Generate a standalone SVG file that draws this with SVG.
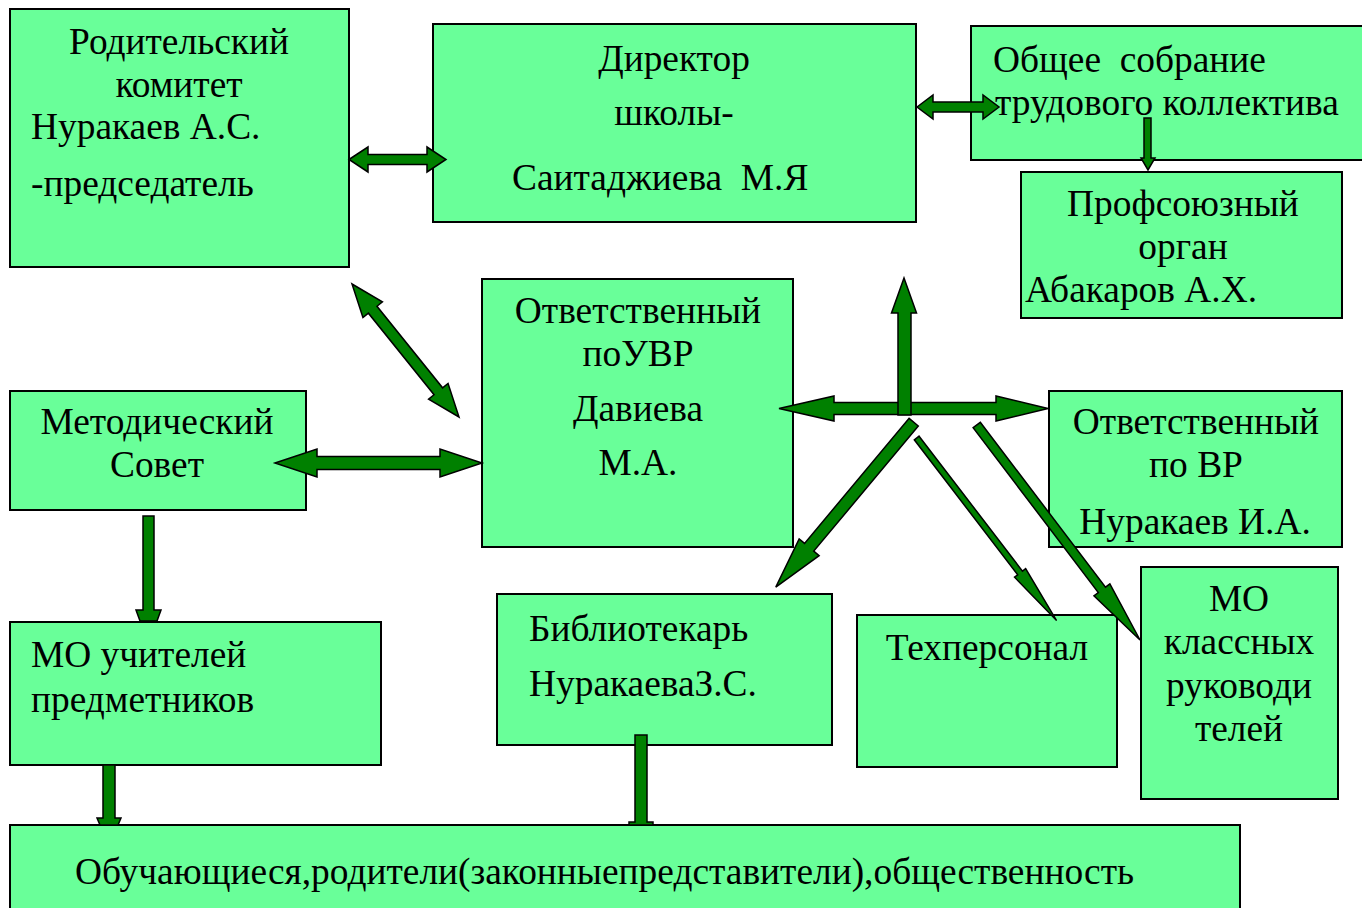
<svg xmlns="http://www.w3.org/2000/svg" width="1362" height="908" viewBox="0 0 1362 908">
<style>
.box{fill:#69FF99;stroke:#000;stroke-width:2}
.t{font-size:37.4px;fill:#000;white-space:pre}
.c{text-anchor:middle}
.ar{fill:#008000;stroke:#000;stroke-width:1.5;stroke-linejoin:miter}
</style>
<rect width="1362" height="908" fill="#fff"/>
<g id="nodes" font-family="'Liberation Serif', 'DejaVu Serif', serif">
<g id="n-roditel"><rect class="box" x="10" y="9" width="339" height="258"/>
<text class="t c" x="179" y="54">Родительский</text>
<text class="t c" x="179" y="97">комитет</text>
<text class="t" x="31" y="139">Нуракаев А.С.</text>
<text class="t" x="31" y="196">-председатель</text></g>
<g id="n-director"><rect class="box" x="433" y="24" width="483" height="198"/>
<text class="t c" x="674" y="71">Директор</text>
<text class="t c" x="674" y="125">школы-</text>
<text class="t" x="512" y="190">Саитаджиева  М.Я</text></g>
<g id="n-sobranie"><rect class="box" x="971" y="26" width="402" height="134"/>
<text class="t" x="993" y="72">Общее  собрание</text>
<text class="t" x="995" y="115">трудового коллектива</text></g>
<g id="n-profsoyuz"><rect class="box" x="1021" y="172" width="321" height="146"/>
<text class="t c" x="1183" y="216">Профсоюзный</text>
<text class="t c" x="1183" y="259">орган</text>
<text class="t" x="1025" y="302">Абакаров А.Х.</text></g>
<g id="n-uvr"><rect class="box" x="482" y="279" width="311" height="268"/>
<text class="t c" x="638" y="323">Ответственный</text>
<text class="t c" x="638" y="366">поУВР</text>
<text class="t c" x="638" y="421">Давиева</text>
<text class="t c" x="638" y="475">М.А.</text></g>
<g id="n-metod"><rect class="box" x="10" y="391" width="296" height="119"/>
<text class="t c" x="157" y="434">Методический</text>
<text class="t c" x="157" y="477">Совет</text></g>
<g id="n-vr"><rect class="box" x="1049" y="391" width="293" height="156"/>
<text class="t c" x="1196" y="434">Ответственный</text>
<text class="t c" x="1196" y="477">по ВР</text>
<text class="t c" x="1195" y="534">Нуракаев И.А.</text></g>
<g id="n-mo-uchit"><rect class="box" x="10" y="622" width="371" height="143"/>
<text class="t" x="31" y="667">МО учителей</text>
<text class="t" x="31" y="712">предметников</text></g>
<g id="n-biblio"><rect class="box" x="497" y="594" width="335" height="151"/>
<text class="t" x="529" y="641">Библиотекарь</text>
<text class="t" x="529" y="696">НуракаеваЗ.С.</text></g>
<g id="n-tech"><rect class="box" x="857" y="615" width="260" height="152"/>
<text class="t c" x="987" y="660">Техперсонал</text></g>
<g id="n-mo-kl"><rect class="box" x="1141" y="567" width="197" height="232"/>
<text class="t c" x="1239" y="611">МО</text>
<text class="t c" x="1239" y="654">классных</text>
<text class="t c" x="1239" y="698">руководи</text>
<text class="t c" x="1239" y="741">телей</text></g>
<g id="n-obuch"><rect class="box" x="10" y="825" width="1230" height="100"/>
<text class="t" x="75" y="884">Обучающиеся,родители(законныепредставители),общественность</text></g>
</g>
<g id="connectors">
<polygon class="ar" points="349,159.5 368,147 368,154.5 427,154.5 427,147 446,159.5 427,172 427,164.5 368,164.5 368,172"/>
<polygon class="ar" transform="translate(352,284) rotate(51.18)" points="0,0 33,-12.5 33,-5.5 137.7,-5.5 137.7,-12.5 170.7,0 137.7,12.5 137.7,5.5 33,5.5 33,12.5"/>
<polygon class="ar" points="275,463 317,449 317,456.5 440,456.5 440,449 482,463 440,477 440,469.5 317,469.5 317,477"/>
<polygon class="ar" points="917,107 933,95 933,102 983,102 983,95 999,107 983,119 983,112 933,112 933,119"/>
<polygon class="ar" points="1144,118 1151,118 1151,158 1155,158 1148,170 1141,158 1144,158"/>
<polygon class="ar" points="143,516 154,516 154,610 161,610 157,621 140,621 136,610 143,610"/>
<polygon class="ar" points="103,765 115,765 115,818 121,818 118,825 100,825 97,818 103,818"/>
<polygon class="ar" points="635,735 647,735 647,822 653,822 653,825 629,825 629,822 635,822"/>
<polygon class="ar" points="779,408.5 834,396 834,402.5 996,402.5 996,396 1048,408.5 996,421 996,414.5 834,414.5 834,421"/>
<polygon class="ar" points="898,415 898,313 891.5,313 904,278 916.5,313 911,313 911,415"/>
<polygon class="ar" transform="translate(913.7,422.2) rotate(129.9)" points="0,-6 163,-6 163,-13 215,0 163,13 163,6 0,6"/>
<polygon class="ar" transform="translate(916.7,438) rotate(52.54)" points="0,-3 170,-3 170,-7 230,0 170,7 170,3 0,3"/>
<polygon class="ar" transform="translate(976.7,425) rotate(52.78)" points="0,-4.5 207,-4.5 207,-10 270,0 207,10 207,4.5 0,4.5"/>
</g>
</svg>
